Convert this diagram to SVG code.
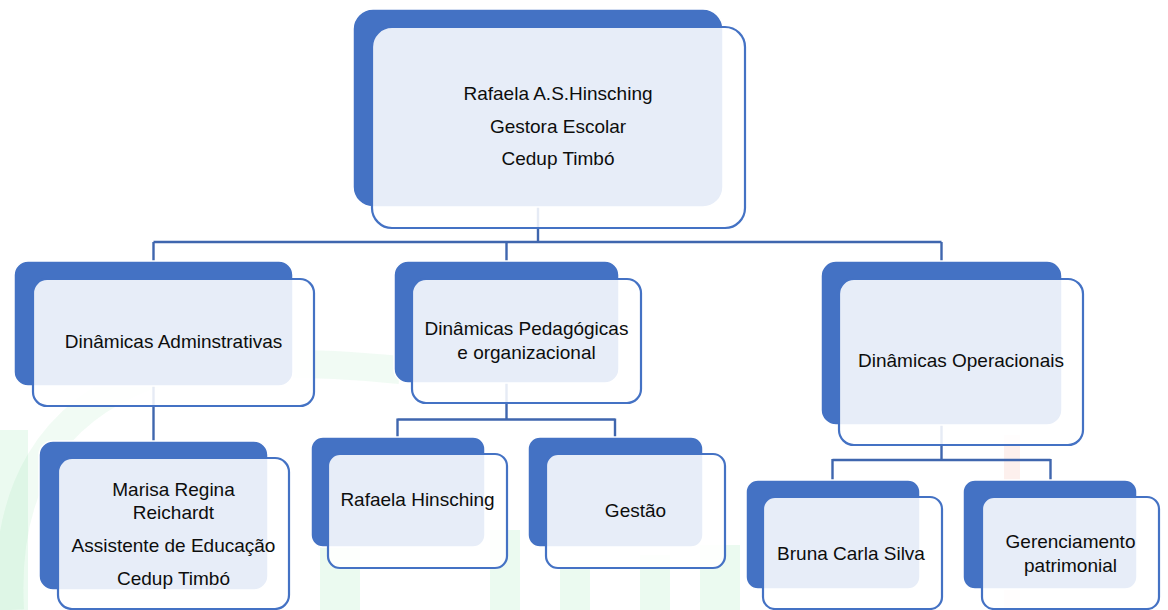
<svg xmlns="http://www.w3.org/2000/svg" width="1168" height="610" viewBox="0 0 1168 610">
<style>
.back{fill:#4472C4;stroke:#ffffff;stroke-width:1.5}
.front{fill:#ffffff;fill-opacity:0.87;stroke:#4472C4;stroke-width:2.2}
.conn{fill:none;stroke:#3F66AE;stroke-width:2.4}
.t{font-family:"Liberation Sans",Arial,sans-serif;font-size:19px;fill:#0d0d0d;text-anchor:middle}
.wm{fill:#22C55E;opacity:0.09}
</style>
<rect width="1168" height="610" fill="#ffffff"/>
<g id="watermark">
<path d="M10,610 Q0,430 150,375 Q240,355 400,370" fill="none" stroke="#3CCB6A" stroke-width="28" opacity="0.07"/>
<rect class="wm" x="0" y="430" width="28" height="180"/>
<rect class="wm" x="320" y="510" width="40" height="100"/>
<rect class="wm" x="490" y="530" width="30" height="80"/>
<rect class="wm" x="560" y="560" width="30" height="50"/>
<rect class="wm" x="640" y="555" width="30" height="55"/>
<rect class="wm" x="700" y="545" width="40" height="65"/>
<rect x="1004" y="435" width="16" height="175" fill="#F06A50" opacity="0.1"/>
</g>
<g id="connectors">
<path class="conn" d="M538,207 V242"/>
<path class="conn" d="M153.5,242 H941.5"/>
<path class="conn" d="M153.5,242 V262 M506.5,242 V262 M941.5,242 V262"/>
<path class="conn" d="M153.5,386 V441"/>
<path class="conn" d="M506.5,383 V419.5 M397.5,419.5 H615 M397.5,418.5 V438 M615,418.5 V438"/>
<path class="conn" d="M941.5,425 V460 M832.5,460 H1050.5 M832.5,459 V481 M1050.5,459 V481"/>
</g>
<g id="node-gestora">
<rect class="back" x="353" y="9" width="370" height="198" rx="20"/>
<rect class="front" x="372" y="27" width="373" height="201" rx="20"/>
<text class="t" x="558" y="100">Rafaela A.S.Hinsching</text>
<text class="t" x="558" y="133">Gestora Escolar</text>
<text class="t" x="558" y="165">Cedup Timbó</text>
</g>
<g id="node-administrativas">
<rect class="back" x="14" y="261" width="279" height="125" rx="14"/>
<rect class="front" x="33" y="279" width="281" height="127" rx="14"/>
<text class="t" x="173.5" y="348">Dinâmicas Adminstrativas</text>
</g>
<g id="node-pedagogicas">
<rect class="back" x="394" y="261" width="225" height="122" rx="14"/>
<rect class="front" x="412" y="279" width="229" height="124" rx="14"/>
<text class="t" x="526.5" y="335">Dinâmicas Pedagógicas</text>
<text class="t" x="526.5" y="359">e organizacional</text>
</g>
<g id="node-operacionais">
<rect class="back" x="821" y="261" width="241" height="164" rx="15"/>
<rect class="front" x="839" y="279" width="244" height="166" rx="15"/>
<text class="t" x="961" y="367">Dinâmicas Operacionais</text>
</g>
<g id="node-marisa">
<rect class="back" x="39" y="441" width="229" height="149" rx="14"/>
<rect class="front" x="58" y="458" width="231" height="151" rx="14"/>
<text class="t" x="173.5" y="496">Marisa Regina</text>
<text class="t" x="173.5" y="519">Reichardt</text>
<text class="t" x="173.5" y="552">Assistente de Educação</text>
<text class="t" x="173.5" y="585">Cedup Timbó</text>
</g>
<g id="node-rafaela">
<rect class="back" x="311" y="437" width="174" height="110" rx="12"/>
<rect class="front" x="328" y="454" width="179" height="114" rx="12"/>
<text class="t" x="417.5" y="506">Rafaela Hinsching</text>
</g>
<g id="node-gestao">
<rect class="back" x="528" y="437" width="175" height="110" rx="12"/>
<rect class="front" x="546" y="454" width="179" height="114" rx="12"/>
<text class="t" x="635.5" y="517">Gestão</text>
</g>
<g id="node-bruna">
<rect class="back" x="746" y="480" width="174" height="109" rx="12"/>
<rect class="front" x="763" y="497" width="179" height="112" rx="12"/>
<text class="t" x="851" y="560">Bruna Carla Silva</text>
</g>
<g id="node-gerenciamento">
<rect class="back" x="963" y="480" width="174" height="109" rx="12"/>
<rect class="front" x="982" y="497" width="177" height="112" rx="12"/>
<text class="t" x="1070.5" y="548">Gerenciamento</text>
<text class="t" x="1070.5" y="572">patrimonial</text>
</g>
</svg>
